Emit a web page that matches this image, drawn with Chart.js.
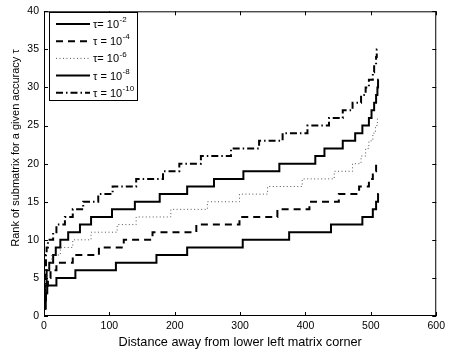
<!DOCTYPE html>
<html>
<head>
<meta charset="utf-8">
<script src="https://cdn.jsdelivr.net/npm/chart.js@4/dist/chart.umd.min.js"></script>
<style>
  html, body { margin: 0; padding: 0; background: #fff; }
  #wrap { width: 449px; height: 356px; }
</style>
</head>
<body>
<div id="wrap"><canvas id="rankChart" width="449" height="356"></canvas></div>
<script>
// step positions (distance) and rank values
const xTau2 = [1, 2, 3, 5, 19, 48, 110, 172, 219, 304, 375, 439, 487, 503, 508, 511, 512];
const rankTau2 = [1, 2, 3, 4, 5, 6, 7, 8, 9, 10, 11, 12, 13, 14, 15, 16, 16];

const xTau4 = [1, 2, 4, 6, 10, 19, 44, 84, 122, 166, 233, 299, 357, 406, 451, 482, 497, 503, 508, 512];
const rankTau4 = [1, 3, 4, 5, 6, 7, 8, 9, 10, 11, 12, 13, 14, 15, 16, 17, 18, 19, 20, 20];

const xTau6 = [1, 2, 3, 5, 7, 12, 25, 44, 72, 112, 141, 194, 250, 299, 342, 395, 444, 472, 485, 492, 497, 503, 507, 510, 512];
const rankTau6 = [1, 3, 5, 6, 7, 8, 9, 10, 11, 12, 13, 14, 15, 16, 17, 18, 19, 20, 21, 22, 23, 24, 25, 26, 26];

const xTau8 = [1, 2, 4, 8, 14, 18, 25, 37, 55, 72, 104, 139, 177, 219, 260, 305, 360, 415, 429, 457, 476, 487, 497, 501, 505, 508, 510, 511, 512];
const rankTau8 = [1, 4, 6, 7, 8, 9, 10, 11, 12, 13, 14, 15, 16, 17, 18, 19, 20, 21, 22, 23, 24, 25, 26, 27, 28, 29, 30, 31, 31];

const xTau10 = [1, 2, 3, 4, 6, 14, 19, 32, 44, 60, 83, 105, 141, 182, 207, 240, 286, 329, 365, 403, 436, 457, 472, 485, 492, 497, 503, 505, 508, 509, 512];
const rankTau10 = [1, 5, 8, 9, 10, 11, 12, 13, 14, 15, 16, 17, 18, 19, 20, 21, 22, 23, 24, 25, 26, 27, 28, 29, 30, 31, 32, 33, 34, 35, 35];

const exponents = ['-2', '-4', '-6', '-8', '-10'];
const legendPrefix = ['\u03c4= 10', '\u03c4 = 10', '\u03c4= 10', '\u03c4 = 10', '\u03c4 = 10'];
const yTitle = 'Rank of submatrix for a given accuracy \u03c4';

const xTicks = [0, 100, 200, 300, 400, 500, 600];
const yTicks = [0, 5, 10, 15, 20, 25, 30, 35, 40];

function pts(xs, ys) {
    return xs.map((x, i) => ({ x: x, y: ys[i] }));
}

const FONT = "'Liberation Sans', Arial, Helvetica, sans-serif";

// matlab style box, inward ticks, y label and legend
const matlabBox = {
    id: 'matlabBox',
    afterDatasetsDraw(chart) {
        const ctx = chart.ctx;
        const a = chart.chartArea;
        const xs = chart.scales.x, ys = chart.scales.y;
        ctx.save();
        ctx.strokeStyle = '#000';
        ctx.lineWidth = 1;
        ctx.setLineDash([]);
        ctx.strokeRect(a.left + 0.5, a.top + 0.5, a.right - a.left - 1, a.bottom - a.top - 1);
        ctx.beginPath();
        xTicks.forEach(v => {
            const p = Math.round(xs.getPixelForValue(v)) + 0.5;
            ctx.moveTo(p, a.bottom); ctx.lineTo(p, a.bottom - 4);
            ctx.moveTo(p, a.top); ctx.lineTo(p, a.top + 4);
        });
        yTicks.forEach(v => {
            const p = Math.round(ys.getPixelForValue(v)) + 0.5;
            ctx.moveTo(a.left, p); ctx.lineTo(a.left + 4, p);
            ctx.moveTo(a.right, p); ctx.lineTo(a.right - 4, p);
        });
        ctx.stroke();

        // y label
        ctx.save();
        ctx.translate(16, 148);
        ctx.rotate(-Math.PI / 2);
        ctx.fillStyle = '#000';
        ctx.font = '11px ' + FONT;
        ctx.textAlign = 'center';
        ctx.textBaseline = 'middle';
        ctx.fillText(yTitle, 0, 0);
        ctx.restore();

        // legend
        const bx = 49.5, by = 12.5, bw = 88, bh = 88;
        ctx.fillStyle = '#fff';
        ctx.fillRect(bx, by, bw, bh);
        ctx.strokeRect(bx, by, bw, bh);
        chart.data.datasets.forEach((ds, i) => {
            const y = 24 + i * 17.2;
            ctx.save();
            ctx.strokeStyle = ds.borderColor;
            ctx.lineWidth = ds.borderWidth;
            ctx.setLineDash(ds.borderDash || []);
            ctx.beginPath();
            ctx.moveTo(56, y);
            ctx.lineTo(90, y);
            ctx.stroke();
            ctx.restore();
            ctx.fillStyle = '#000';
            ctx.textBaseline = 'middle';
            ctx.textAlign = 'left';
            ctx.font = '11px ' + FONT;
            const base = legendPrefix[i];
            ctx.fillText(base, 93, y + 1);
            const w = ctx.measureText(base).width;
            ctx.font = '8px ' + FONT;
            ctx.fillText(exponents[i], 93 + w + 0.5, y - 4);
        });
        ctx.restore();
    }
};

new Chart(document.getElementById('rankChart').getContext('2d'), {
    type: 'line',
    data: {
        datasets: [{
            label: 'tau=1e-2',
            data: pts(xTau2, rankTau2),
            borderColor: '#000',
            borderWidth: 2,
            stepped: true
        }, {
            label: 'tau=1e-4',
            data: pts(xTau4, rankTau4),
            borderColor: '#000',
            borderWidth: 2,
            borderDash: [7, 5],
            stepped: true
        }, {
            label: 'tau=1e-6',
            data: pts(xTau6, rankTau6),
            borderColor: '#555',
            borderWidth: 1,
            borderDash: [1, 2.5],
            stepped: true
        }, {
            label: 'tau=1e-8',
            data: pts(xTau8, rankTau8),
            borderColor: '#000',
            borderWidth: 2,
            stepped: true
        }, {
            label: 'tau=1e-10',
            data: pts(xTau10, rankTau10),
            borderColor: '#000',
            borderWidth: 2,
            borderDash: [7, 3, 1.5, 3],
            stepped: true
        }]
    },
    options: {
        responsive: false,
        animation: false,
        events: [],
        layout: { padding: { top: 9, right: 12, left: 0, bottom: 0 } },
        elements: { point: { radius: 0 } },
        plugins: {
            legend: { display: false },
            tooltip: { enabled: false }
        },
        scales: {
            x: {
                type: 'linear',
                min: 0,
                max: 600,
                afterBuildTicks: s => { s.ticks = xTicks.map(v => ({ value: v })); },
                afterFit: s => { s.height = 40; },
                grid: { display: false, drawTicks: false },
                border: { display: false },
                ticks: { color: '#000', padding: 4, font: { family: FONT, size: 10.5 } },
                title: {
                    display: true,
                    text: 'Distance away from lower left matrix corner',
                    color: '#000',
                    padding: { top: 0, bottom: 6 },
                    font: { family: FONT, size: 12.7 }
                }
            },
            y: {
                min: 0,
                max: 40,
                afterBuildTicks: s => { s.ticks = yTicks.map(v => ({ value: v })); },
                afterFit: s => { s.width = 44; },
                grid: { display: false, drawTicks: false },
                border: { display: false },
                ticks: { color: '#000', padding: 5, font: { family: FONT, size: 10.5 } },
                title: { display: false }
            }
        }
    },
    plugins: [matlabBox]
});
</script>
</body>
</html>
